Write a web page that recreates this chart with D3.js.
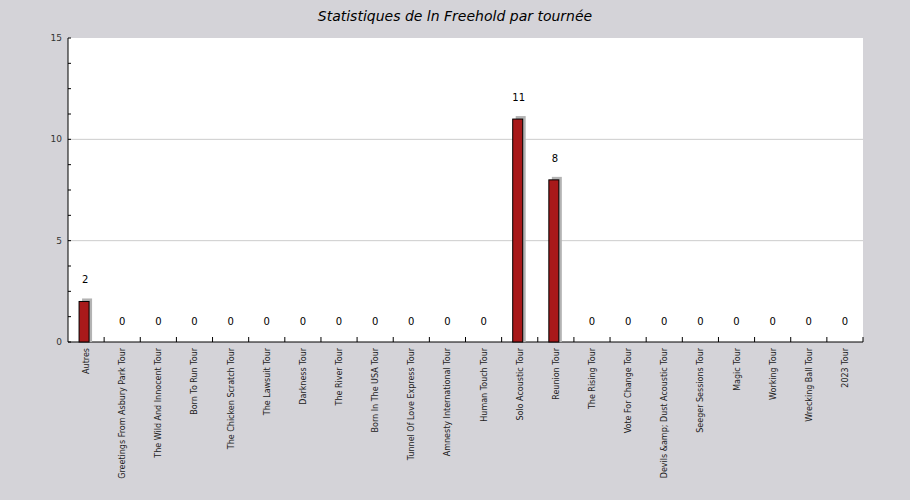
<!DOCTYPE html>
<html><head><meta charset="utf-8">
<script src="https://cdn.jsdelivr.net/npm/d3@7"></script>
<style>body{margin:0;background:#d4d3d8;}svg{display:block;font-family:"DejaVu Sans",sans-serif;}</style>
</head><body>
<svg id="c" width="910" height="500"></svg>
<script>
const categories = ["Autres","Greetings From Asbury Park Tour","The Wild And Innocent Tour","Born To Run Tour","The Chicken Scratch Tour","The Lawsuit Tour","Darkness Tour","The River Tour","Born In The USA Tour","Tunnel Of Love Express Tour","Amnesty International Tour","Human Touch Tour","Solo Acoustic Tour","Reunion Tour","The Rising Tour","Vote For Change Tour","Devils &amp; Dust Acoustic Tour","Seeger Sessions Tour","Magic Tour","Working Tour","Wrecking Ball Tour","2023 Tour"];
const values = [2,0,0,0,0,0,0,0,0,0,0,0,11,8,0,0,0,0,0,0,0,0];
const yTicks = [0,5,10,15];
const title = "Statistiques de ln Freehold par tournée";

const svg = d3.select("#c");
const L=68,R=863,T=38,B=342;
svg.append("rect").attr("x",L).attr("y",T).attr("width",R-L).attr("height",B-T).attr("fill","#fff");
const x = d3.scaleBand().domain(categories).range([L,R]);
const y = d3.scaleLinear().domain([0,15]).range([B,T]);
svg.append("text").attr("x",455).attr("y",21).attr("text-anchor","middle").attr("font-size",14).attr("font-style","italic").attr("fill","#000").text(title);
// grid
svg.selectAll(".g").data(yTicks.slice(1,3)).join("line").attr("x1",L).attr("x2",R).attr("y1",d=>y(d)).attr("y2",d=>y(d)).attr("stroke","#ccc");
// y axis
svg.append("line").attr("x1",L).attr("x2",L).attr("y1",T).attr("y2",B).attr("stroke","#000");
d3.range(0,15.01,1.25).forEach(v=>svg.append("line").attr("x1",L).attr("x2",L+3).attr("y1",y(v)).attr("y2",y(v)).attr("stroke","#000"));
svg.selectAll(".yl").data(yTicks).join("text").attr("x",L-6).attr("y",d=>y(d)+3).attr("text-anchor","end").attr("font-size",9).attr("fill","#333").text(d=>d);
// x axis
svg.append("line").attr("x1",L).attr("x2",R).attr("y1",B).attr("y2",B).attr("stroke","#000");
categories.forEach((c,i)=>{const xx=x(c)+x.bandwidth();svg.append("line").attr("x1",xx).attr("x2",xx).attr("y1",B).attr("y2",B-5).attr("stroke","#000");});
svg.selectAll(".xl").data(categories).join("text")
 .attr("transform",d=>`translate(${x(d)+x.bandwidth()/2+3},${B+6}) rotate(-90)`)
 .attr("text-anchor","end").attr("font-size",8).attr("fill","#222").text(d=>d);
// bars
const bw=10;
values.forEach((v,i)=>{
  const cx=x(categories[i])+x.bandwidth()/2-2;
  if(v>0){
    svg.append("rect").attr("x",cx-bw/2+3).attr("y",y(v)-3).attr("width",bw).attr("height",B-y(v)+3).attr("fill","#b3b3b3");
    svg.append("rect").attr("x",cx-bw/2).attr("y",y(v)).attr("width",bw).attr("height",B-y(v)).attr("fill","#a8191a").attr("stroke","#000");
    svg.append("text").attr("x",cx+1).attr("y",y(v)-18).attr("text-anchor","middle").attr("font-size",10).text(v);
  } else {
    svg.append("text").attr("x",cx+2).attr("y",B-17).attr("text-anchor","middle").attr("font-size",10).text(v);
  }
});
</script></body></html>
